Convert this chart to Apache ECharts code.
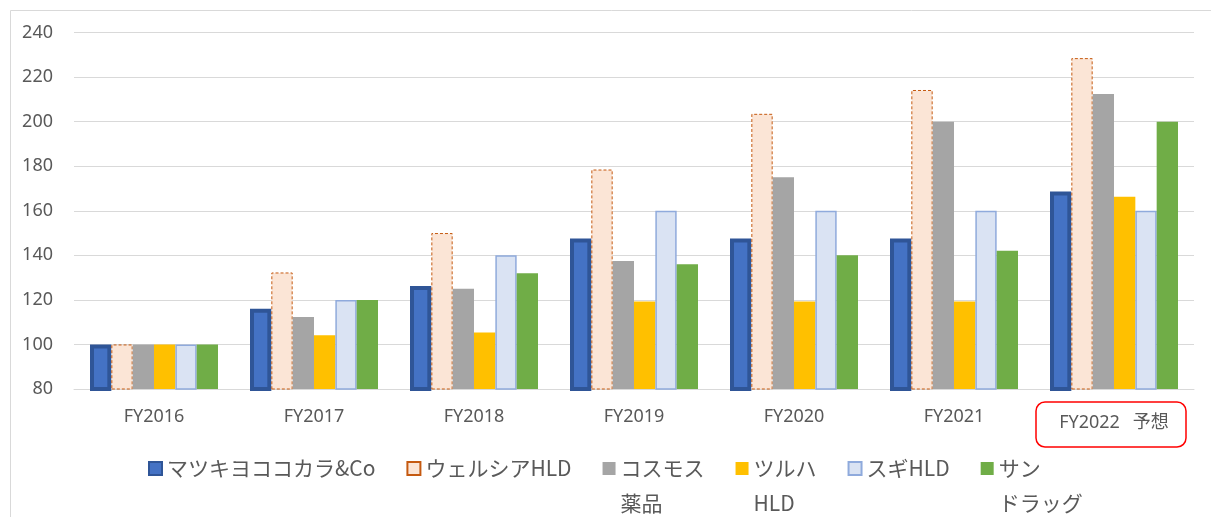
<!DOCTYPE html>
<html>
<head>
<meta charset="utf-8">
<script src="https://cdn.jsdelivr.net/npm/echarts@6/dist/echarts.min.js"></script>
<style>
  html, body { margin: 0; padding: 0; background: #ffffff; }
  #chart { width: 1211px; height: 517px; }
</style>
</head>
<body>
<div id="chart"></div>
<script>
const categories = ['FY2016', 'FY2017', 'FY2018', 'FY2019', 'FY2020', 'FY2021', 'FY2022 予想'];
const seriesNames = ['マツキヨココカラ&Co', 'ウェルシアHLD', 'コスモス薬品', 'ツルハHLD', 'スギHLD', 'サンドラッグ'];
const legendLines = [['マツキヨココカラ&Co', ' '], ['ウェルシアHLD', ' '], ['コスモス', '薬品'], ['ツルハ', 'HLD'], ['スギHLD', ' '], ['サン', 'ドラッグ']];
const matsukiyo = [100, 116, 126.2, 147.5, 147.5, 147.5, 168.6];
const welcia = [100, 132.3, 150, 178.5, 203.5, 214.2, 228.5];
const cosmos = [100, 112.3, 125, 137.4, 175, 200, 212.4];
const tsuruha = [100, 104.1, 105.4, 119.3, 119.3, 119.3, 166.3];
const sugi = [100, 120, 140, 160, 160, 160, 160];
const sundrug = [100, 120, 132, 136, 140, 142, 200];
const yTicks = { min: 80, max: 240, interval: 20 };
const highlightCategory = categories[categories.length - 1];

const FONT = '"Noto Sans", "Noto Sans CJK JP", sans-serif';
const TXT = '#595959';

const chart = echarts.init(document.getElementById('chart'), null, { renderer: 'canvas' });

const styles = [
  { color: '#4472C4', borderColor: '#2F5597', borderWidth: 4 },
  { color: '#FBE5D6', borderColor: '#C55A11', borderWidth: 1, borderType: [3, 2] },
  { color: '#A5A5A5' },
  { color: '#FFC000' },
  { color: '#DAE3F3', borderColor: '#8FAADC', borderWidth: 1.5 },
  { color: '#70AD47' }
];
const values = [matsukiyo, welcia, cosmos, tsuruha, sugi, sundrug];

const series = seriesNames.map((name, i) => ({
  name: name,
  type: 'bar',
  data: values[i],
  barGap: '0%',
  barCategoryGap: '20%',
  itemStyle: styles[i],
  emphasis: { disabled: true }
}));

const option = {
  backgroundColor: '#ffffff',
  animation: false,
  grid: { left: 74, right: 17, top: 32.5, bottom: 128, containLabel: false },
  xAxis: {
    type: 'category',
    data: categories,
    axisLine: { show: true, lineStyle: { color: '#D9D9D9', width: 1 } },
    axisTick: { show: false },
    axisLabel: {
      margin: 19,
      interval: 0,
      formatter: function (v) {
        if (v === highlightCategory) {
          const parts = v.split(' ');
          return '{h|' + parts[0] + '}{j|' + parts[1] + '}';
        }
        return '{n|' + v + '}';
      },
      rich: {
        n: { fontFamily: FONT, fontSize: 18, color: TXT, lineHeight: 18 },
        h: { fontFamily: FONT, fontSize: 18, color: TXT, lineHeight: 30 },
        j: { fontFamily: FONT, fontSize: 18, color: TXT, lineHeight: 30, padding: [0, 0, 0, 13] }
      }
    }
  },
  yAxis: {
    type: 'value',
    min: yTicks.min,
    max: yTicks.max,
    interval: yTicks.interval,
    axisLine: { show: false },
    axisTick: { show: false },
    axisLabel: { margin: 21, fontFamily: FONT, fontSize: 18, color: TXT },
    splitLine: { lineStyle: { color: '#D9D9D9', width: 1 } }
  },
  legend: {
    left: 143,
    top: 411,
    itemWidth: 13,
    itemHeight: 13,
    itemGap: 31,
    icon: 'rect',
    selectedMode: false,
    data: seriesNames,
    formatter: function (name) {
      const i = seriesNames.indexOf(name);
      return ' \n' + legendLines[i][0] + '\n' + legendLines[i][1];
    },
    textStyle: { fontFamily: '"Noto Sans CJK JP", sans-serif', fontSize: 21, color: TXT, lineHeight: 35 }
  },
  series: series
};

chart.setOption(option);

// Frame and highlight box around the forecast category label, placed through the axis scales
const cx = chart.convertToPixel({ xAxisIndex: 0 }, highlightCategory);
const axisY = chart.convertToPixel({ yAxisIndex: 0 }, yTicks.min);
chart.setOption({
  graphic: [
    {
      type: 'rect',
      shape: { x: 10.5, y: 10.5, width: 1300, height: 700 },
      style: { fill: 'none', stroke: '#D9D9D9', lineWidth: 1 },
      silent: true
    },
    {
      type: 'rect',
      shape: { x: cx - 78, y: axisY + 13, width: 150, height: 45, r: 9 },
      style: { fill: 'none', stroke: '#FF0000', lineWidth: 1.5 },
      silent: true
    }
  ]
});
</script>
</body>
</html>
